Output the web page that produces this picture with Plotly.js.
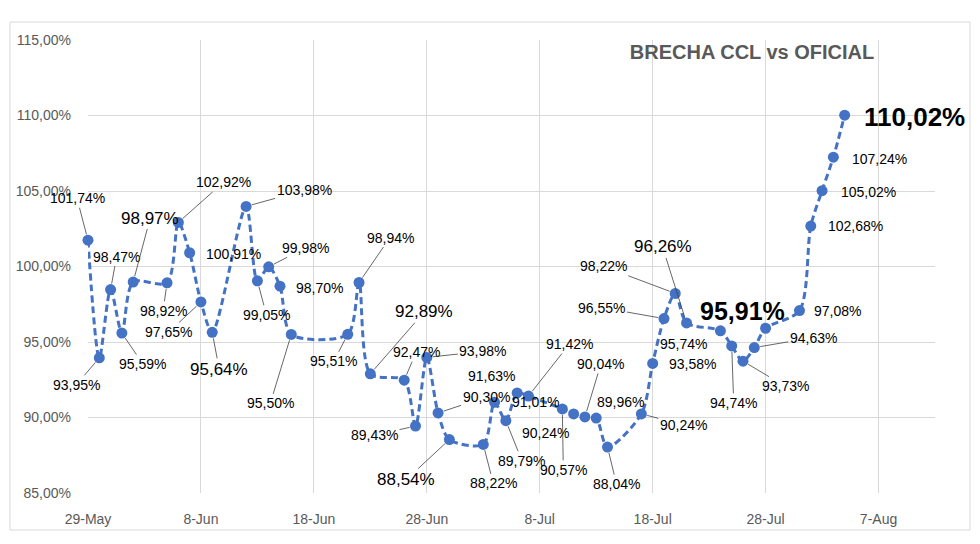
<!DOCTYPE html>
<html>
<head>
<meta charset="utf-8">
<script src="https://cdn.plot.ly/plotly-3.0.1.min.js"></script>
<style>
  body { margin: 0; background: #fff; }
  #chart { width: 980px; height: 544px; }
</style>
</head>
<body>
<div id="chart"></div>
<script>
// Brecha CCL vs oficial, trading days 2023
const dates = [
    '2023-05-29', '2023-05-30', '2023-05-31', '2023-06-01', '2023-06-02',
    '2023-06-05', '2023-06-06', '2023-06-07', '2023-06-08', '2023-06-09',
    '2023-06-12', '2023-06-13', '2023-06-14', '2023-06-15', '2023-06-16',
    '2023-06-21', '2023-06-22', '2023-06-23',
    '2023-06-26', '2023-06-27', '2023-06-28', '2023-06-29', '2023-06-30',
    '2023-07-03', '2023-07-04', '2023-07-05', '2023-07-06', '2023-07-07',
    '2023-07-10', '2023-07-11', '2023-07-12', '2023-07-13', '2023-07-14',
    '2023-07-17', '2023-07-18', '2023-07-19', '2023-07-20', '2023-07-21',
    '2023-07-24', '2023-07-25', '2023-07-26', '2023-07-27', '2023-07-28',
    '2023-07-31', '2023-08-01', '2023-08-02', '2023-08-03', '2023-08-04'
];
const brecha = [
    101.74, 93.95, 98.47, 95.59, 98.97,
    98.92, 102.92, 100.91, 97.65, 95.64,
    103.98, 99.05, 99.98, 98.70, 95.50,
    95.51, 98.94, 92.89,
    92.47, 89.43, 93.98, 90.30, 88.54,
    88.22, 91.01, 89.79, 91.63, 91.42,
    90.57, 90.24, 90.04, 89.96, 88.04,
    90.24, 93.58, 96.55, 98.22, 96.26,
    95.74, 94.74, 93.73, 94.63, 95.91,
    97.08, 102.68, 105.02, 107.24, 110.02
];
const yTicks = [85, 90, 95, 100, 105, 110, 115];

// label placement, px from the point: [dx, dy, leader line, style]
const labelPos = [
    [-11, -42, 1, 's'], [-23, 27, 1, 's'], [6, -33, 1, 's'], [21, 31, 1, 's'], [17, -64, 1, 'b'],
    [-4, 28, 1, 's'], [45, -40, 1, 's'], [44, 1, 0, 's'], [-32, 30, 1, 's'], [7, 37, 1, 'b'],
    [58, -16, 1, 's'], [9, 34, 1, 's'], [37, -19, 1, 's'], [40, 2, 0, 's'], [-21, 69, 1, 's'],
    [-14, 27, 1, 's'], [31, -45, 1, 's'], [54, -62, 1, 'b'],
    [12, -28, 1, 's'], [-41, 9, 1, 's'], [56, -6, 1, 's'], [48, -16, 1, 's'], [-43, 40, 1, 'b'],
    [10, 39, 1, 's'], [41, 0, 0, 's'], [16, 40, 1, 's'], [-26, -17, 0, 's'], [41, -52, 1, 's'],
    [1, 61, 1, 's'], [-28, 19, 0, 's'], [16, -53, 1, 's'], [24, -16, 0, 's'], [9, 37, 1, 's'],
    [42, 11, 1, 's'], [40, 1, 0, 's'], [-62, -11, 1, 's'], [-72, -27, 1, 's'], [-24, -76, 1, 'b'],
    [-37, 13, 0, 's'], [2, 57, 1, 's'], [42, 25, 1, 's'], [59, -10, 1, 's'], [-23, -17, 0, 'x'],
    [38, 0, 0, 's'], [45, 0, 0, 's'], [46, 1, 0, 's'], [46, 2, 0, 's'], [70, 2, 0, 'X']
];

const fontFam = 'Liberation Sans, Arial, sans-serif';
const styles = {
    s: { size: 14, bold: false },
    b: { size: 17, bold: false },
    x: { size: 25, bold: true },
    X: { size: 26, bold: true }
};

function fmt(v) {
    return v.toFixed(2).replace('.', ',') + '%';
}

const annotations = brecha.map((v, i) => {
    const [dx, dy, line, st] = labelPos[i];
    const s = styles[st];
    const txt = s.bold ? '<b>' + fmt(v) + '</b>' : fmt(v);
    const a = {
        x: dates[i], y: v, xref: 'x', yref: 'y',
        text: txt,
        font: { family: fontFam, size: s.size, color: '#000' }
    };
    if (line) {
        a.showarrow = true;
        a.arrowhead = 0;
        a.arrowwidth = 0.8;
        a.arrowcolor = '#404040';
        a.standoff = 6;
        a.ax = dx;
        a.ay = dy;
    } else {
        a.showarrow = false;
        a.xshift = dx;
        a.yshift = -dy;
    }
    return a;
});

const trace = {
    x: dates,
    y: brecha,
    type: 'scatter',
    mode: 'lines+markers',
    line: { color: '#4472C4', width: 3, dash: '7px,4px', shape: 'spline', smoothing: 0.8 },
    marker: { color: '#4472C4', size: 11 },
    cliponaxis: false,
    hoverinfo: 'x+y'
};

const layout = {
    width: 980,
    height: 544,
    margin: { l: 88, r: 45, t: 40, b: 51 },
    paper_bgcolor: '#fff',
    plot_bgcolor: '#fff',
    showlegend: false,
    title: {
        text: '<b>BRECHA CCL vs OFICIAL</b>',
        font: { family: fontFam, size: 20, color: '#595959' },
        x: 0.784, xref: 'paper', y: 0.904, yref: 'container',
        xanchor: 'center', yanchor: 'middle'
    },
    xaxis: {
        type: 'date',
        range: ['2023-05-29', '2023-08-12'],
        tick0: '2023-05-29',
        dtick: 10 * 86400000,
        tickformat: '%-d-%b',
        showgrid: true,
        gridcolor: '#d9d9d9',
        zeroline: false,
        showline: false,
        ticks: '',
        ticklabelstandoff: 16,
        tickfont: { family: fontFam, size: 14, color: '#595959' }
    },
    yaxis: {
        range: [85, 115],
        tickmode: 'array',
        tickvals: yTicks,
        ticktext: yTicks.map(fmt),
        showgrid: true,
        gridcolor: '#d9d9d9',
        zeroline: false,
        showline: false,
        ticks: '',
        ticklabelstandoff: 16,
        tickfont: { family: fontFam, size: 14, color: '#595959' }
    },
    annotations: annotations,
    shapes: [{
        type: 'rect', xref: 'paper', yref: 'paper',
        x0: -0.0921, x1: 1.0413, y0: -0.0817, y1: 1.0397,
        line: { color: '#d9d9d9', width: 1 }
    }]
};

Plotly.newPlot('chart', [trace], layout, { displayModeBar: false });
</script>
</body>
</html>
